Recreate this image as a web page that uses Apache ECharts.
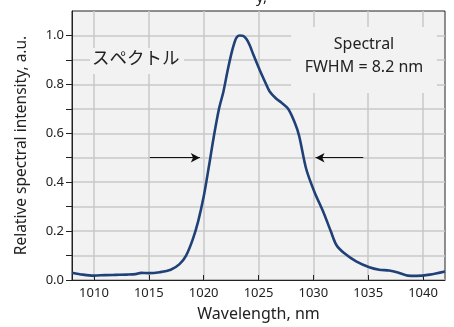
<!DOCTYPE html>
<html><head><meta charset="utf-8">
<script src="https://cdn.jsdelivr.net/npm/echarts@6/dist/echarts.min.js"></script>
<style>html,body{margin:0;padding:0;background:#fff}#c{width:454px;height:327px}</style>
</head><body><div id="c"></div>
<script>
const wavelengths = [1008,1009,1010,1011,1012,1013,1013.8,1014.3,1015,1016,1017,1017.8,1018.4,1019.0,1019.5,1020.0,1020.5,1020.9,1021.4,1021.8,1022.2,1022.55,1022.8,1023.0,1023.3,1023.6,1023.9,1024.2,1024.5,1025.1,1025.6,1026.0,1026.6,1027.1,1027.7,1028.3,1028.7,1029.35,1030.1,1030.9,1031.6,1032.1,1032.8,1033.9,1035.1,1036.0,1036.9,1037.7,1038.6,1039.4,1040.6,1042];
const intensity = [0.03,0.022,0.018,0.02,0.021,0.022,0.024,0.029,0.028,0.032,0.042,0.065,0.1,0.165,0.24,0.34,0.47,0.58,0.7,0.77,0.86,0.93,0.97,0.992,1.0,0.998,0.985,0.96,0.925,0.86,0.81,0.772,0.742,0.725,0.70,0.644,0.59,0.454,0.36,0.279,0.198,0.143,0.11,0.076,0.052,0.042,0.039,0.031,0.018,0.017,0.022,0.035];
const xTicks = [1010,1015,1020,1025,1030,1035,1040];
const yTicks = [0,0.2,0.4,0.6,0.8,1.0];
const yMinorTicks = [0,0.1,0.2,0.3,0.4,0.5,0.6,0.7,0.8,0.9,1.0];
const fwhmLeft = [1015.1,1019.65];
const fwhmRight = [1034.55,1030.2];
const halfMax = 0.5;

const chart = echarts.init(document.getElementById('c'));
const FONT = '"Noto Sans", "Open Sans", sans-serif';
chart.setOption({
  animation: false,
  grid: {left:72, right:9, top:11, bottom:45, show:true, backgroundColor:'#f2f2f2', borderColor:'#222', borderWidth:1},
  xAxis: {
    type:'value', min:1008, max:1042,
    name:'Wavelength, nm', nameLocation:'middle', nameGap:26,
    nameTextStyle:{fontFamily:FONT, fontSize:16, color:'#222'},
    axisLine:{show:true, lineStyle:{color:'#222', width:1}},
    axisTick:{show:true, inside:true, length:5, customValues:xTicks, lineStyle:{color:'#222'}},
    axisLabel:{customValues:xTicks, fontFamily:FONT, fontSize:13, color:'#222', margin:7, formatter:v=>String(v)},
    splitLine:{show:true, lineStyle:{color:'#c8c8c8', width:1.5}}
  },
  yAxis: {
    type:'value', min:0, max:1.1,
    name:'Relative spectral intensity, a.u.', nameLocation:'middle', nameGap:42,
    nameTextStyle:{fontFamily:FONT, fontSize:15.5, color:'#222'},
    axisLine:{show:true, lineStyle:{color:'#222', width:1}},
    axisTick:{show:true, length:6, customValues:yMinorTicks, lineStyle:{color:'#222'}},
    axisLabel:{customValues:yTicks, fontFamily:FONT, fontSize:13, color:'#222', margin:8, formatter:v=>v.toFixed(1)},
    splitLine:{show:true, lineStyle:{color:'#c8c8c8', width:1.5}}
  },
  graphic: [
    {type:'rect', shape:{x:291, y:27, width:146, height:66}, style:{fill:'#f2f2f2'}, z:5},
    {type:'text', x:364, y:33, style:{text:'Spectral\nFWHM = 8.2 nm', font:'16px '+FONT, fill:'#222', align:'center', lineHeight:23}, z:6},
    {type:'rect', shape:{x:90, y:48, width:94, height:26}, style:{fill:'#f2f2f2'}, z:5},
    {type:'text', x:92, y:49, style:{text:'スペクトル', font:'17.5px "Noto Sans CJK JP"', fill:'#222'}, z:6},
    {type:'text', x:256, y:-10, style:{text:'y,', font:'15px '+FONT, fill:'#222'}, z:6}
  ],
  series: [{
    type:'line', data:wavelengths.map((w,i)=>[w,intensity[i]]),
    showSymbol:false, smooth:0.3, z:10,
    lineStyle:{color:'#1f4178', width:2.6},
    markLine:{
      silent:true, symbol:['none','arrow'], symbolSize:[7,9],
      label:{show:false},
      lineStyle:{color:'#111', width:1.2, type:'solid'},
      data:[
        [{coord:[fwhmLeft[0],halfMax]},{coord:[fwhmLeft[1],halfMax]}],
        [{coord:[fwhmRight[0],halfMax]},{coord:[fwhmRight[1],halfMax]}]
      ]
    }
  }]
});
</script></body></html>
